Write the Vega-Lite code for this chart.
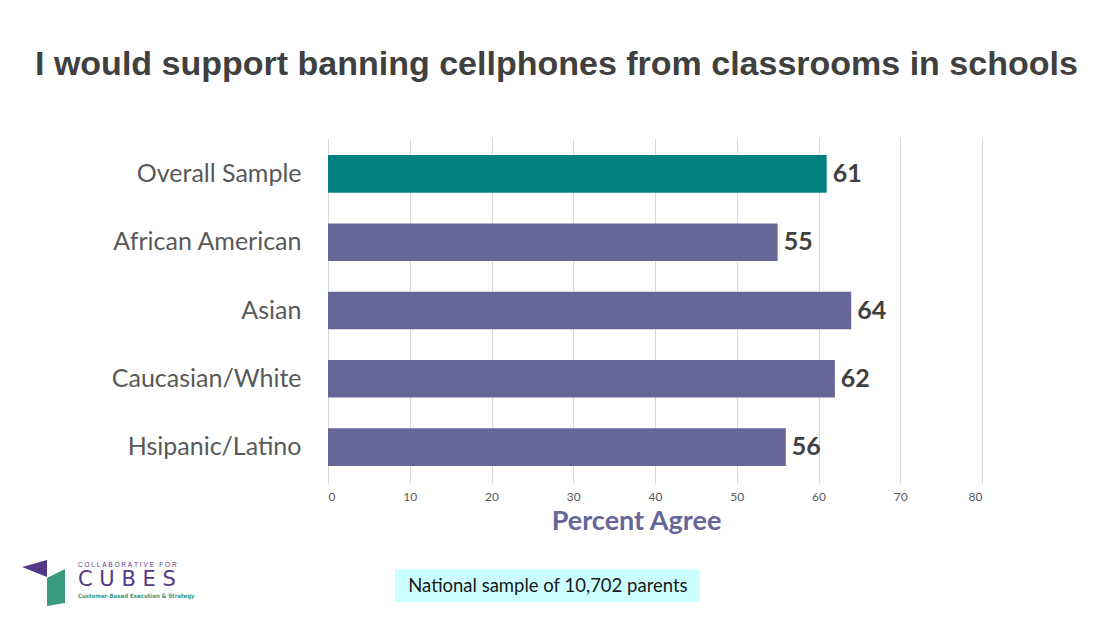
{
  "$schema": "https://vega.github.io/schema/vega-lite/v6.json",
  "padding": {"left": 22, "top": 48, "right": 5, "bottom": 5},
  "background": "white",
  "title": {
    "text": "I would support banning cellphones from classrooms in schools",
    "anchor": "start",
    "font": "Liberation Sans",
    "fontSize": 34,
    "fontWeight": "bold",
    "color": "#404040",
    "offset": 56,
    "dx": 13
  },
  "config": {"view": {"stroke": null}, "font": "Lato"},
  "spacing": 22,
  "vconcat": [
    {
      "width": 654,
      "height": 345,
      "data": {
        "values": [
          {"group": "Overall Sample", "kind": "overall", "pct": 61},
          {"group": "African American", "kind": "subgroup", "pct": 55},
          {"group": "Asian", "kind": "subgroup", "pct": 64},
          {"group": "Caucasian/White", "kind": "subgroup", "pct": 62},
          {"group": "Hsipanic/Latino", "kind": "subgroup", "pct": 56}
        ]
      },
      "encoding": {
        "y": {
          "field": "group",
          "type": "nominal",
          "sort": null,
          "scale": {"paddingInner": 0.45, "paddingOuter": 0.25},
          "axis": {
            "title": null,
            "domain": false,
            "ticks": false,
            "labelPadding": 27,
            "labelFontSize": 25,
            "labelColor": "#595959",
            "labelFont": "Lato",
            "labelLimit": 300
          }
        },
        "x": {
          "field": "pct",
          "type": "quantitative",
          "scale": {"domain": [0, 80], "nice": false},
          "axis": {
            "title": "Percent Agree",
            "values": [0, 10, 20, 30, 40, 50, 60, 70, 80],
            "grid": true,
            "gridColor": "#d9d9d9",
            "domain": false,
            "ticks": false,
            "labelFontSize": 12,
            "labelColor": "#595959",
            "labelFont": "Lato",
            "labelPadding": 8,
            "titleFont": "Lato",
            "titleFontSize": 27,
            "titleColor": "#666699",
            "titleFontWeight": "bold",
            "titlePadding": 6,
            "titleX": 308
          }
        }
      },
      "layer": [
        {
          "mark": {"type": "bar"},
          "encoding": {
            "color": {
              "field": "kind",
              "type": "nominal",
              "scale": {"domain": ["overall", "subgroup"], "range": ["#008080", "#666699"]},
              "legend": null
            }
          }
        },
        {
          "mark": {"type": "text", "align": "left", "baseline": "middle", "dx": 6, "fontSize": 25, "fontWeight": "bold", "color": "#404040", "font": "Lato"},
          "encoding": {"text": {"field": "pct", "type": "quantitative"}}
        }
      ]
    },
    {
      "width": 654,
      "height": 50,
      "data": {"values": [{}]},
      "layer": [
        {
          "mark": {"type": "rect", "color": "#ccffff"},
          "encoding": {
            "x": {"datum": 8.2, "type": "quantitative", "scale": {"domain": [0, 80], "nice": false}, "axis": null},
            "x2": {"datum": 45.5},
            "y": {"datum": 7.4, "type": "quantitative", "scale": {"domain": [0, 10], "nice": false}, "axis": null},
            "y2": {"datum": 0.8}
          }
        },
        {
          "mark": {"type": "text", "fontSize": 18.5, "color": "#1a1a1a", "font": "Lato", "baseline": "middle"},
          "encoding": {
            "x": {"datum": 26.9, "type": "quantitative", "axis": null},
            "y": {"datum": 4.1, "type": "quantitative", "axis": null},
            "text": {"value": "National sample of 10,702 parents"}
          }
        },
        {
          "mark": {"type": "point", "shape": "M-1,-0.12L1,-0.68L1,0.68Z", "filled": true, "color": "#54388a", "size": 625, "opacity": 1},
          "encoding": {
            "x": {"datum": -35.9, "type": "quantitative", "axis": null},
            "y": {"datum": 7.5, "type": "quantitative", "axis": null}
          }
        },
        {
          "mark": {"type": "point", "shape": "M-0.486,-0.514L0.486,-1L0.486,0.838L-0.486,1Z", "filled": true, "color": "#3a9a7e", "size": 1369, "opacity": 1},
          "encoding": {
            "x": {"datum": -33.27, "type": "quantitative", "axis": null},
            "y": {"datum": 3.7, "type": "quantitative", "axis": null}
          }
        },
        {
          "mark": {"type": "text", "align": "left", "baseline": "middle", "fontSize": 6.5, "color": "#54388a", "font": "Liberation Sans"},
          "encoding": {
            "x": {"datum": -30.58, "type": "quantitative", "axis": null},
            "y": {"datum": 8.3, "type": "quantitative", "axis": null},
            "text": {"value": "C\u00a0O\u00a0L\u00a0L\u00a0A\u00a0B\u00a0O\u00a0R\u00a0A\u00a0T\u00a0I\u00a0V\u00a0E\u00a0\u00a0\u00a0F\u00a0O\u00a0R"}
          }
        },
        {
          "mark": {"type": "text", "align": "left", "baseline": "middle", "fontSize": 21, "color": "#54388a", "font": "DejaVu Sans"},
          "encoding": {
            "x": {"datum": -30.58, "type": "quantitative", "axis": null},
            "y": {"datum": 5.2, "type": "quantitative", "axis": null},
            "text": {"value": "C U B E S"}
          }
        },
        {
          "mark": {"type": "text", "align": "left", "baseline": "middle", "fontSize": 6, "fontWeight": "bold", "color": "#3a9a7e", "font": "DejaVu Sans Condensed"},
          "encoding": {
            "x": {"datum": -30.58, "type": "quantitative", "axis": null},
            "y": {"datum": 2.0, "type": "quantitative", "axis": null},
            "text": {"value": "Customer-Based Execution & Strategy"}
          }
        }
      ]
    }
  ]
}
